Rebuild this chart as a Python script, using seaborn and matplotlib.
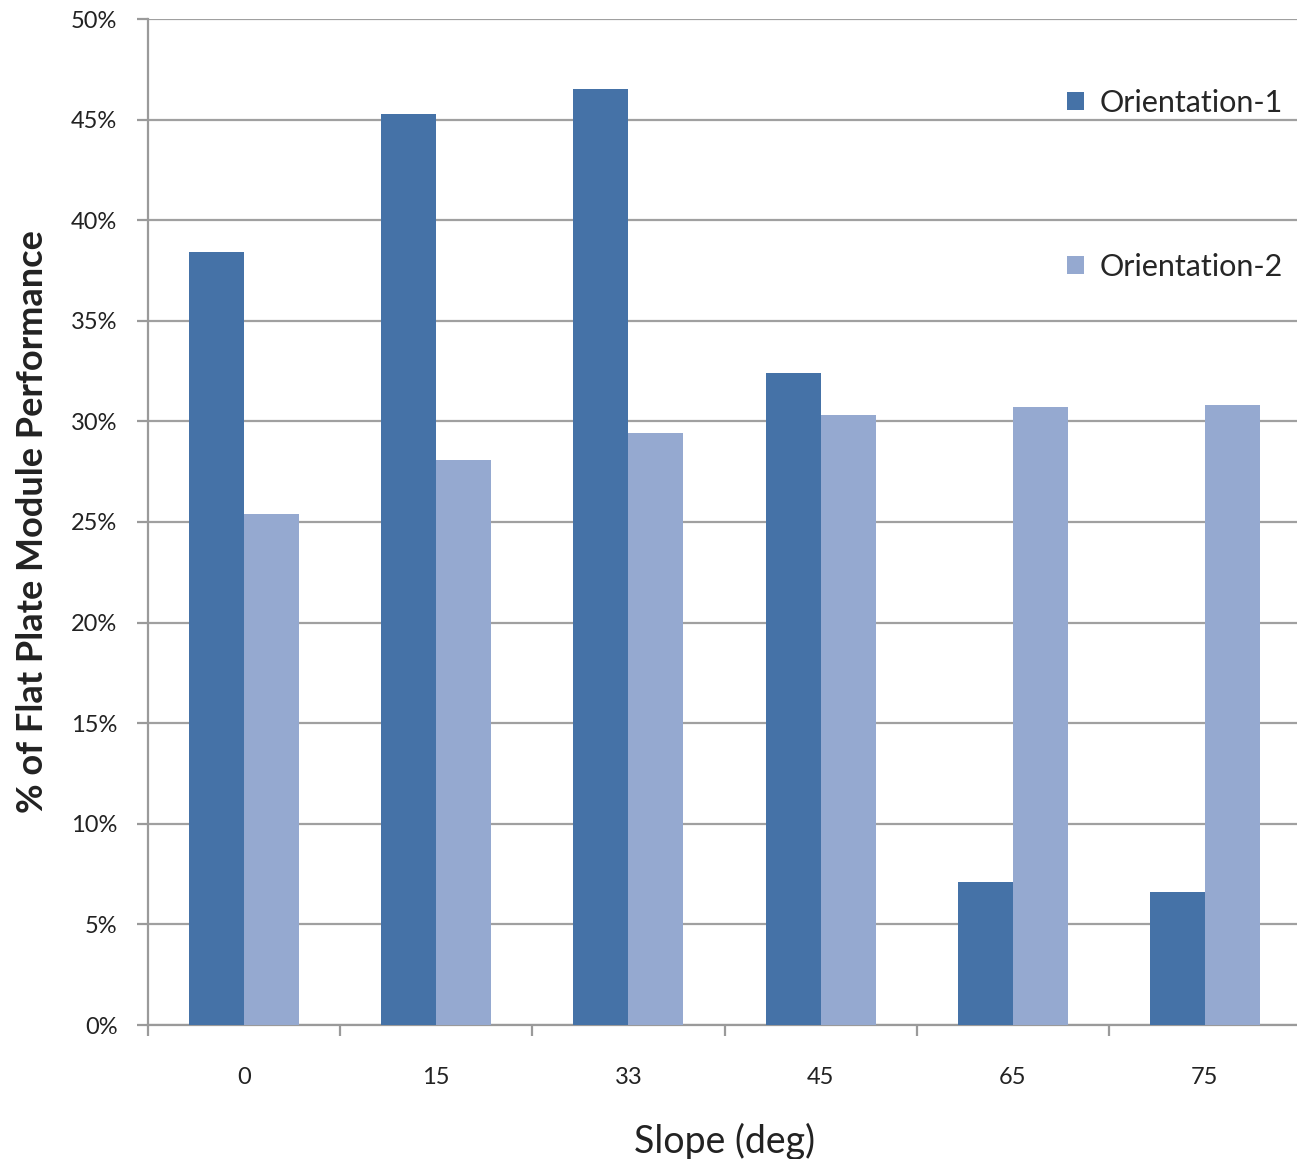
import matplotlib
matplotlib.use("Agg")
import matplotlib.pyplot as plt
from matplotlib.ticker import PercentFormatter, FixedLocator
import numpy as np
import pandas as pd
import seaborn as sns

# Slope angles (deg) and relative output for each module orientation (%)
slopes = ["0", "15", "33", "45", "65", "75"]
orientation_1 = [38.4, 45.3, 46.5, 32.4, 7.1, 6.6]
orientation_2 = [25.4, 28.1, 29.4, 30.3, 30.7, 30.8]
series_names = ["Orientation-1", "Orientation-2"]
colors = ["#4572A7", "#95A9D0"]

df = pd.DataFrame({
    "Slope": slopes * 2,
    "Value": orientation_1 + orientation_2,
    "Series": [series_names[0]] * len(slopes) + [series_names[1]] * len(slopes),
})

sns.set_theme(style="white")
plt.rcParams["font.family"] = ["Lato", "DejaVu Sans"]

W, H = 1297, 1159
fig = plt.figure(figsize=(W / 100, H / 100), dpi=100)
ax = fig.add_axes([148 / W, 1 - 1025 / H, (1301 - 148) / W, (1025 - 19) / H])

sns.barplot(data=df, x="Slope", y="Value", hue="Series", order=slopes,
            hue_order=series_names, palette=colors, width=0.573,
            saturation=1, linewidth=0, ax=ax, zorder=3)

ax.set_ylim(0, 50)
ax.set_xlim(-0.5, 5.5)
ax.set_yticks(np.arange(0, 51, 5))
ax.yaxis.set_major_formatter(PercentFormatter(decimals=0))
ax.grid(axis="y", color="#A0A0A0", linewidth=1.6, zorder=0)
ax.set_axisbelow(True)

for s in ["top", "right"]:
    ax.spines[s].set_visible(False)
for s in ["left", "bottom"]:
    ax.spines[s].set_color("#9A9A9A")
    ax.spines[s].set_linewidth(1.6)

ax.tick_params(axis="y", which="major", left=True, length=8, width=1.6,
               color="#9A9A9A", labelsize=17, pad=14, labelcolor="#222222")
ax.tick_params(axis="x", which="major", bottom=False, length=0,
               labelsize=17, pad=30, labelcolor="#222222")
ax.xaxis.set_minor_locator(FixedLocator(np.arange(-0.5, 6.0, 1.0)))
ax.tick_params(axis="x", which="minor", bottom=True, length=8, width=1.6,
               color="#9A9A9A")

ax.set_xlabel("Slope (deg)", fontsize=27, labelpad=25, color="#222222")
ax.set_ylabel("% of Flat Plate Module Performance", fontsize=26,
              fontweight="bold", labelpad=16, color="#222222")

ax.legend(loc="upper right", bbox_to_anchor=((1295 - 148) / (1301 - 148), 0.943),
          frameon=False, fontsize=22, handlelength=0.55, handleheight=0.55,
          handletextpad=0.5, labelspacing=4.45, borderaxespad=0)

fig.savefig("out.png", dpi=100)
